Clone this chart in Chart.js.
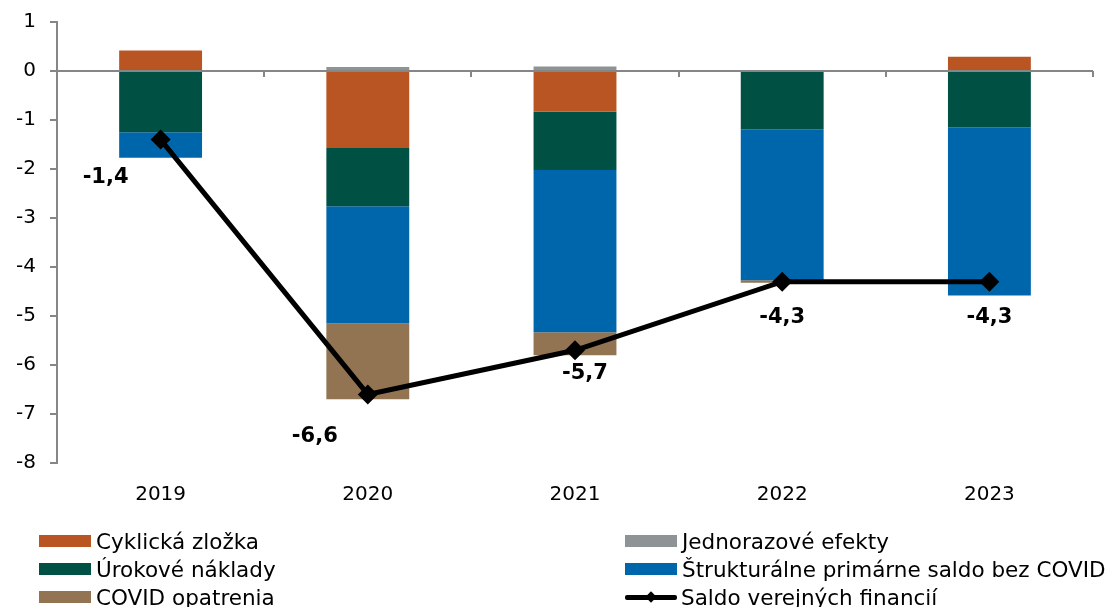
<!DOCTYPE html>
<html lang="sk">
<head>
<meta charset="utf-8">
<title>Saldo verejných financií</title>
<script src="https://cdn.jsdelivr.net/npm/chart.js@4"></script>
<style>
  html, body { margin: 0; padding: 0; background: #fff; }
  #wrap { position: relative; width: 1112px; height: 607px; font-family: "DejaVu Sans", Verdana, sans-serif; }
  #graf { position: absolute; left: 0; top: 0; }
  #legenda {
    position: absolute; left: 39px; top: 527px;
    display: grid; grid-template-columns: 586px auto;
    font-size: 21.5px; color: #000;
  }
  .polozka { display: flex; align-items: center; height: 28px; white-space: nowrap; }
  .box { width: 52px; height: 12px; margin-right: 5px; }
  .ciara { position: relative; width: 52px; height: 14px; margin-right: 4px; }
  .ciara::before { content: ""; position: absolute; left: 0; right: 0; top: 5px; height: 5px; background: #000; border-radius: 2px; }
  .ciara::after { content: ""; position: absolute; left: 22px; top: 2px; width: 8px; height: 8px; background: #000; transform: translate(0, 1px) rotate(45deg); }
</style>
</head>
<body>
<div id="wrap">
  <canvas id="graf" width="1112" height="607"></canvas>
  <div id="legenda"></div>
</div>
<script>
const roky = ['2019', '2020', '2021', '2022', '2023'];

// zložky salda (% HDP)
const cyklicka = [0.42, -1.57, -0.83, 0, 0.29];
const jednorazove = [0, 0.08, 0.09, 0, 0];
const urokove = [-1.25, -1.19, -1.19, -1.19, -1.15];
const strukturalne = [-0.52, -2.39, -3.31, -3.08, -3.43];
const covid = [0, -1.55, -0.47, -0.05, 0];
const saldo = [-1.4, -6.6, -5.7, -4.3, -4.3];

const yTicks = [1, 0, -1, -2, -3, -4, -5, -6, -7, -8];

// posun popisiek salda voči bodu (px)
const posunPopisiek = [[-55, 38], [-53, 42], [10, 23], [0, 36], [0, 36]];

const farby = {
    cyklicka: '#B95423',
    jednorazove: '#8E9396',
    urokove: '#005044',
    strukturalne: '#0066AC',
    covid: '#927452'
};

const pismo = '"DejaVu Sans", Verdana, sans-serif';

function barDataset(label, data, color) {
    return {
        type: 'bar',
        label: label,
        data: data,
        backgroundColor: color,
        borderWidth: 0,
        stack: 'zlozky',
        order: 1,
        barPercentage: 0.4,
        categoryPercentage: 1
    };
}

// nulová os s čiarkami medzi kategóriami
const nulovaOs = {
    id: 'nulovaOs',
    beforeDatasetsDraw(chart) {
        const ctx = chart.ctx;
        const area = chart.chartArea;
        const y0 = chart.scales.y.getPixelForValue(0);
        const krok = (area.right - area.left) / roky.length;
        ctx.save();
        ctx.strokeStyle = '#868686';
        ctx.lineWidth = 2;
        ctx.beginPath();
        ctx.moveTo(area.left, y0);
        ctx.lineTo(area.right, y0);
        for (let i = 1; i <= roky.length; i++) {
            const x = Math.round(area.left + krok * i);
            ctx.moveTo(x, y0);
            ctx.lineTo(x, y0 + 6);
        }
        ctx.stroke();
        ctx.restore();
    }
};

// popisky hodnôt salda
const popiskySalda = {
    id: 'popiskySalda',
    afterDatasetsDraw(chart) {
        const idx = chart.data.datasets.findIndex(d => d.type === 'line');
        const meta = chart.getDatasetMeta(idx);
        const ctx = chart.ctx;
        ctx.save();
        ctx.font = 'bold 21px ' + pismo;
        ctx.fillStyle = '#000';
        ctx.textAlign = 'center';
        ctx.textBaseline = 'middle';
        meta.data.forEach((pt, i) => {
            const text = saldo[i].toFixed(1).replace('.', ',');
            ctx.fillText(text, pt.x + posunPopisiek[i][0], pt.y + posunPopisiek[i][1]);
        });
        ctx.restore();
    }
};

const chart = new Chart(document.getElementById('graf'), {
    data: {
        labels: roky,
        datasets: [
            barDataset('Cyklická zložka', cyklicka, farby.cyklicka),
            barDataset('Jednorazové efekty', jednorazove, farby.jednorazove),
            barDataset('Úrokové náklady', urokove, farby.urokove),
            barDataset('Štrukturálne primárne saldo bez COVID', strukturalne, farby.strukturalne),
            barDataset('COVID opatrenia', covid, farby.covid),
            {
                type: 'line',
                label: 'Saldo verejných financií',
                data: saldo,
                borderColor: '#000',
                borderWidth: 5,
                backgroundColor: '#000',
                pointStyle: 'rectRot',
                pointRadius: 10,
                pointBackgroundColor: '#000',
                pointBorderWidth: 0,
                tension: 0,
                fill: false,
                stack: 'saldo',
                order: 0
            }
        ]
    },
    options: {
        responsive: false,
        animation: false,
        events: [],
        layout: { padding: { top: 22, right: 19, left: 0, bottom: 0 } },
        plugins: {
            legend: { display: false },
            tooltip: { enabled: false }
        },
        scales: {
            x: {
                stacked: true,
                grid: { display: false },
                border: { display: false },
                ticks: {
                    color: '#000',
                    padding: 12,
                    font: { family: pismo, size: 20 }
                },
                afterFit(scale) { scale.height = 144; }
            },
            y: {
                stacked: true,
                min: -8,
                max: 1,
                afterBuildTicks(scale) { scale.ticks = yTicks.map(v => ({ value: v })); },
                grid: {
                    drawOnChartArea: false,
                    drawTicks: true,
                    tickLength: 7,
                    color: '#868686',
                    lineWidth: 2
                },
                border: { color: '#868686', width: 2 },
                ticks: {
                    color: '#000',
                    padding: 14,
                    font: { family: pismo, size: 20 },
                    callback: v => String(v)
                },
                afterFit(scale) {
                    scale.width = 57;
                    scale.paddingTop = 0;
                    scale.paddingBottom = 0;
                }
            }
        }
    },
    plugins: [nulovaOs, popiskySalda]
});

// legenda v dvoch stĺpcoch (poradie po riadkoch)
const legenda = document.getElementById('legenda');
chart.data.datasets.forEach(ds => {
    const item = document.createElement('div');
    item.className = 'polozka';
    const znak = document.createElement('span');
    if (ds.type === 'line') {
        znak.className = 'ciara';
    } else {
        znak.className = 'box';
        znak.style.background = ds.backgroundColor;
    }
    const text = document.createElement('span');
    text.textContent = ds.label;
    item.appendChild(znak);
    item.appendChild(text);
    legenda.appendChild(item);
});
</script>
</body>
</html>
